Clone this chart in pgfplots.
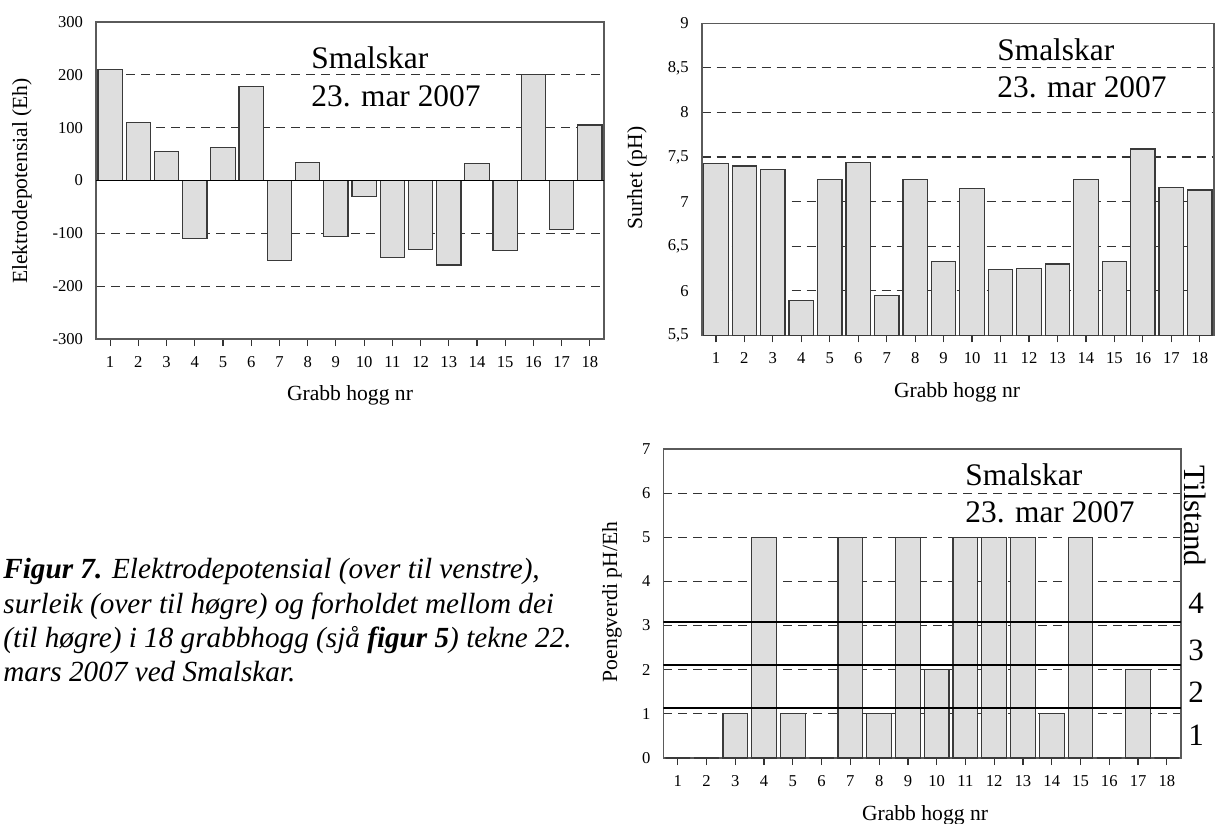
\documentclass[border=0pt]{standalone}
\usepackage{pgfplots}
\pgfplotsset{compat=1.18}
\usepackage{fontspec}
\setmainfont{Liberation Serif}
\definecolor{barfill}{HTML}{DEDEDE}
\definecolor{barline}{HTML}{3A3A3A}
\definecolor{frame}{HTML}{5A5A5A}
\pgfplotsset{
  gbar/.style={fill=barfill, draw=barline, line width=0.6pt},
  mybars/.style={
    scale only axis,
    anchor=south west,
    ybar, bar width=0.86,
    xmin=0.5, xmax=18.5,
    xtick={1,...,18},
    xticklabels={1,2,3,4,5,6,7,8,9,10,11,12,13,14,15,16,17,18},
    xtick pos=left, xtick align=outside,
    major tick length=3.5pt,
    ytick style={draw=none},
    xtick style={black!80, line width=0.6pt},
    tick label style={font=\fontsize{8.3}{10}\selectfont},
    xticklabel style={yshift=-1pt, text height=6pt, text depth=0pt},
    yticklabel style={xshift=-3pt},
    axis line style={frame, line width=0.8pt},
    ymajorgrids,
    major grid style={dash pattern=on 4.5pt off 3pt, black!80, line width=0.55pt},
  }
}
\begin{document}
\begin{tikzpicture}[x=0.5pt,y=-0.5pt]
\useasboundingbox (0,0) rectangle (1216,824);

% ---------- top left ----------
\begin{axis}[mybars, at={(48pt,-169.5pt)}, width=254pt, height=158.5pt,
  ymin=-300, ymax=300, ytick={-300,-200,-100,0,100,200,300},
  yticklabels={-300,-200,-100,0,100,200,300}]
\addplot[gbar] coordinates {(1,210) (2,110) (3,55) (4,-110) (5,63) (6,178) (7,-152) (8,34) (9,-106) (10,-30) (11,-145) (12,-131) (13,-160) (14,32) (15,-133) (16,200) (17,-92) (18,105)};
\draw[black, line width=0.7pt] (axis cs:0.5,0) -- (axis cs:18.5,0);
\end{axis}

% ---------- top right ----------
\begin{axis}[mybars, at={(350.85pt,-167.65pt)}, width=256.15pt, height=156pt,
  ymin=5.5, ymax=9, ytick={5.5,6,6.5,7,7.5,8,8.5,9},
  yticklabels={{5,5},6,{6,5},7,{7,5},8,{8,5},9}]
\addplot[gbar] coordinates {(1,7.43) (2,7.40) (3,7.36) (4,5.89) (5,7.25) (6,7.44) (7,5.95) (8,7.25) (9,6.33) (10,7.15) (11,6.24) (12,6.25) (13,6.30) (14,7.25) (15,6.33) (16,7.59) (17,7.16) (18,7.13)};
\end{axis}

% ---------- bottom right ----------
\begin{axis}[mybars, at={(331.7pt,-379pt)}, width=258.9pt, height=154.5pt,
  ymin=0, ymax=7, ytick={0,1,...,7},
  yticklabels={0,1,2,3,4,5,6,7}]
\addplot[gbar] coordinates {(1,0) (2,0) (3,1) (4,5) (5,1) (6,0) (7,5) (8,1) (9,5) (10,2) (11,5) (12,5) (13,5) (14,1) (15,5) (16,0) (17,2) (18,0)};
\draw[black, line width=0.9pt] (axis cs:0.5,1.13) -- (axis cs:18.5,1.13);
\draw[black, line width=0.9pt] (axis cs:0.5,2.1) -- (axis cs:18.5,2.1);
\draw[black, line width=0.9pt] (axis cs:0.5,3.08) -- (axis cs:18.5,3.08);
\end{axis}

% ---------- labels ----------
\begin{scope}[every node/.style={inner sep=0pt, font=\fontsize{10.8}{13}\selectfont}]
\node at (350,395) {Grabb hogg nr};
\node[rotate=90] at (22,181) {Elektrodepotensial (Eh)};
\node at (957,392) {Grabb hogg nr};
\node[rotate=90] at (637,178) {Surhet (pH)};
\node at (925,815) {Grabb hogg nr};
\node[rotate=90] at (612,602) {Poengverdi pH/Eh};
\end{scope}

\begin{scope}[every node/.style={inner sep=0pt, anchor=west, font=\fontsize{15.7}{19}\selectfont}]
\node at (311,58) {Smalskar};
\node at (311,96) {23. mar 2007};
\node at (997,50) {Smalskar};
\node at (997,87) {23. mar 2007};
\node at (965,475) {Smalskar};
\node at (965,512) {23. mar 2007};
\end{scope}

\begin{scope}[every node/.style={inner sep=0pt, font=\fontsize{15.5}{19}\selectfont}]
\node[rotate=-90] at (1195,516) {Tilstand};
\node at (1196,603) {4};
\node at (1196,650) {3};
\node at (1196,692) {2};
\node at (1196,735) {1};
\end{scope}

\begin{scope}[every node/.style={inner sep=0pt, anchor=base west, font=\fontsize{14.6}{17}\selectfont\itshape}]
\node at (3,578) {\textbf{Figur 7.} Elektrodepotensial (over til venstre),};
\node at (3,613) {surleik (over til høgre) og forholdet mellom dei};
\node at (3,647) {(til høgre) i 18 grabbhogg (sjå \textbf{figur 5}) tekne 22.};
\node at (3,681) {mars 2007 ved Smalskar.};
\end{scope}
\end{tikzpicture}
\end{document}
